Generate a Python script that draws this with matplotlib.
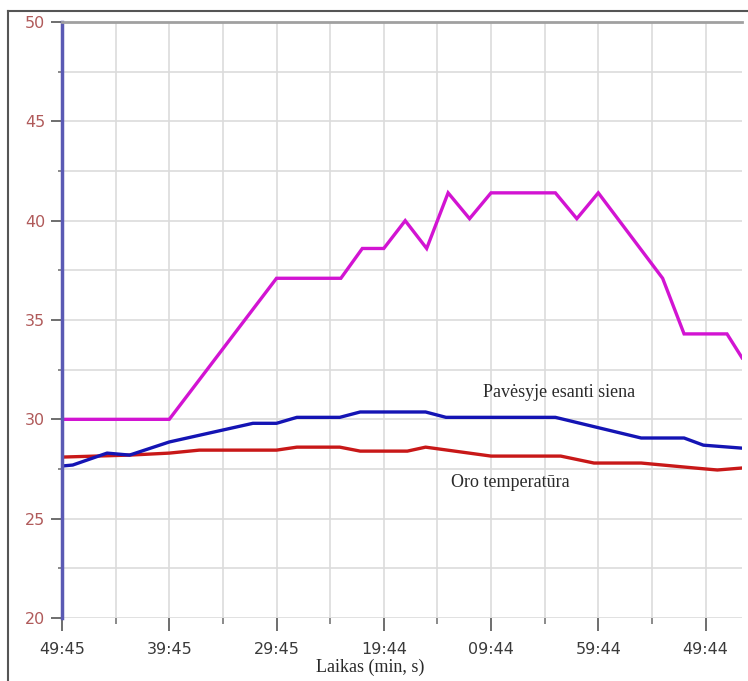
import matplotlib
matplotlib.use("Agg")
import matplotlib.pyplot as plt
from matplotlib.lines import Line2D
from matplotlib.ticker import MultipleLocator, FixedLocator

# Elapsed minutes and temperatures (°C)
shade_t = [0, 10, 20, 26, 28, 30, 32, 34, 36, 38, 40, 46, 48, 50, 56, 58, 62, 63.4]
shade_v = [30.0, 30.0, 37.1, 37.1, 38.6, 38.6, 40.0, 38.6, 41.4, 40.1, 41.4, 41.4,
           40.1, 41.4, 37.1, 34.3, 34.3, 33.1]

wall_t = [0, 1.0, 4.2, 6.3, 10, 17.8, 20, 21.9, 25.9, 27.8, 33.9, 35.8, 46, 54, 58, 59.8, 63.4]
wall_v = [27.65, 27.7, 28.3, 28.2, 28.86, 29.8, 29.8, 30.1, 30.1, 30.37, 30.37, 30.1,
          30.1, 29.06, 29.06, 28.7, 28.55]

air_t = [0, 6.3, 10, 12.8, 20, 21.9, 25.9, 27.8, 32.2, 33.9, 40, 46.5, 49.6, 54, 59, 61.1, 63.4]
air_v = [28.1, 28.2, 28.3, 28.45, 28.45, 28.6, 28.6, 28.4, 28.4, 28.6, 28.15, 28.15,
         27.8, 27.8, 27.55, 27.45, 27.55]

tick_pos = [0, 10, 20, 30, 40, 50, 60]
tick_labels = ["49:45", "39:45", "29:45", "19:44", "09:44", "59:44", "49:44"]

label_wall = "Pavėsyje esanti siena"
label_air = "Oro temperatūra"
x_title = "Laikas (min, s)"

fig = plt.figure(figsize=(7.48, 6.81), dpi=100)
ax = fig.add_axes([62 / 748, 1 - 618 / 681, (742 - 62) / 748, (618 - 22) / 681])

ax.set_xlim(0, 63.4)
ax.set_ylim(20, 50)

grid_c = "#dcdcdc"
ax.xaxis.set_major_locator(FixedLocator(tick_pos))
ax.xaxis.set_minor_locator(MultipleLocator(5))
ax.yaxis.set_major_locator(MultipleLocator(5))
ax.yaxis.set_minor_locator(MultipleLocator(2.5))
ax.grid(True, which="both", color=grid_c, linewidth=1.2)
ax.set_axisbelow(True)

ax.set_xticklabels(tick_labels)
ax.tick_params(axis="x", which="major", length=9, width=1.2, color="#555555", pad=8,
               labelsize=11.5, labelcolor="#3a3a3a", direction="out")
ax.tick_params(axis="x", which="minor", length=4, width=1.2, color="#777777")
ax.tick_params(axis="y", which="major", length=8, width=1.2, color="#555555", pad=4,
               labelsize=11.5, labelcolor="#b05a5a")
ax.tick_params(axis="y", which="minor", length=3, width=1.2, color="#777777")

for s in ("right", "bottom"):
    ax.spines[s].set_visible(False)
ax.spines["top"].set_color("#a0a0a0")
ax.spines["top"].set_linewidth(2)
ax.spines["left"].set_color("#5a5ab4")
ax.spines["left"].set_linewidth(2.5)

ax.plot(shade_t, shade_v, color="#d214d2", linewidth=2.4, solid_joinstyle="miter")
ax.plot(air_t, air_v, color="#c81818", linewidth=2.4)
ax.plot(wall_t, wall_v, color="#1414b4", linewidth=2.4)

ax.text(46.3, 31.37, label_wall, family="Liberation Serif", fontsize=13,
        color="#2a2a2a", ha="center", va="center")
ax.text(41.8, 26.8, label_air, family="Liberation Serif", fontsize=13,
        color="#2a2a2a", ha="center", va="center")

fig.text(370 / 748, 1 - 667 / 681, x_title, family="Liberation Serif", fontsize=13,
         color="#2a2a2a", ha="center", va="center")

# Outer frame
fig.add_artist(Line2D([8 / 748, 1.0], [1 - 11 / 681, 1 - 11 / 681],
                      transform=fig.transFigure, color="#555555", linewidth=1.5))
fig.add_artist(Line2D([8 / 748, 8 / 748], [0.0, 1 - 11 / 681],
                      transform=fig.transFigure, color="#555555", linewidth=1.5))

fig.savefig("out.png", dpi=100)
